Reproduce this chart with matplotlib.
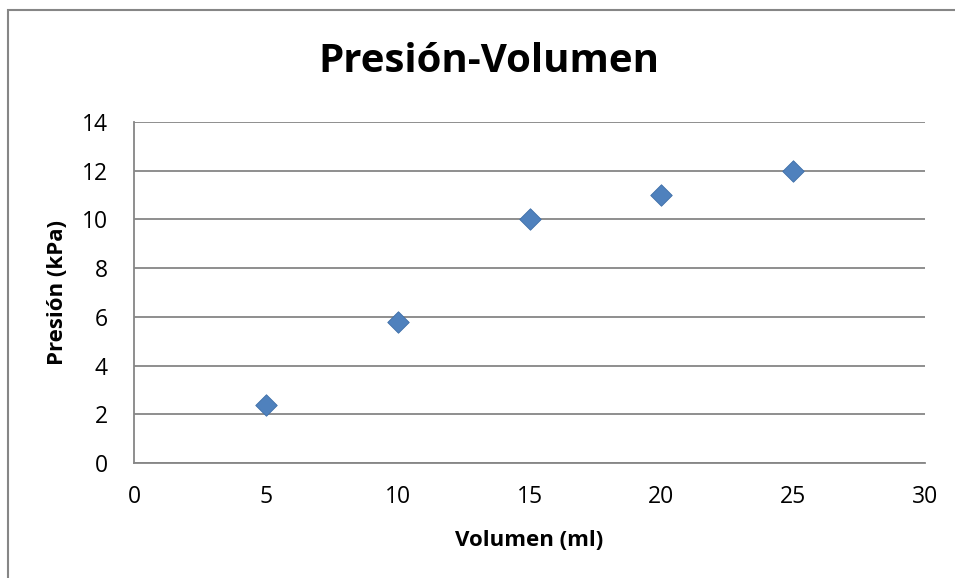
import matplotlib
matplotlib.use("Agg")
import matplotlib.pyplot as plt
from matplotlib.patches import Rectangle

volumen = [5, 10, 15, 20, 25]
presion = [2.4, 5.8, 10, 11, 12]
x_ticks = [0, 5, 10, 15, 20, 25, 30]
y_ticks = [0, 2, 4, 6, 8, 10, 12, 14]

plt.rcParams['font.family'] = ['Open Sans', 'DejaVu Sans']

W, H = 955, 578
fig = plt.figure(figsize=(W/100, H/100), dpi=100)
fig.patches.append(Rectangle((8/W, 0 - 0.01), 1.0, 1 - 10/H + 0.01, transform=fig.transFigure,
                             fill=False, edgecolor='#868686', linewidth=1.5, clip_on=False))

ax = fig.add_axes([134/W, 1 - 463/H, (925-134)/W, (463-122)/H])
ax.scatter(volumen, presion, marker='D', s=120, color='#4F81BD', edgecolor='#3F6FA8', linewidth=0.6, zorder=3)
ax.set_xlim(0, 30)
ax.set_ylim(0, 14)
ax.set_xticks(x_ticks)
ax.set_yticks(y_ticks)
ax.yaxis.grid(True, color='#868686', linewidth=1.3)
ax.set_axisbelow(True)
for s in ['top', 'right']:
    ax.spines[s].set_visible(False)
for s in ['left', 'bottom']:
    ax.spines[s].set_color('#868686')
    ax.spines[s].set_linewidth(1.3)
ax.tick_params(length=0, labelsize=16.5, labelcolor='#000000')
ax.tick_params(axis='x', pad=16)
ax.tick_params(axis='y', pad=19)
ax.set_xlabel('Volumen (ml)', fontsize=16, fontweight='bold')
ax.xaxis.set_label_coords(0.5 - (529-529)/(925-134), -(540-463)/(463-122), transform=ax.transAxes)
ax.set_ylabel('Presión (kPa)', fontsize=16, fontweight='bold')
ax.yaxis.set_label_coords(-(134-58)/(925-134), 0.5, transform=ax.transAxes)
ax.xaxis.label.set_va('center')
ax.yaxis.label.set_va('center')
fig.text(489/W, 1 - 62/H, 'Presión-Volumen', ha='center', va='center', fontsize=29, fontweight='bold')

fig.savefig('out.png', dpi=100)
